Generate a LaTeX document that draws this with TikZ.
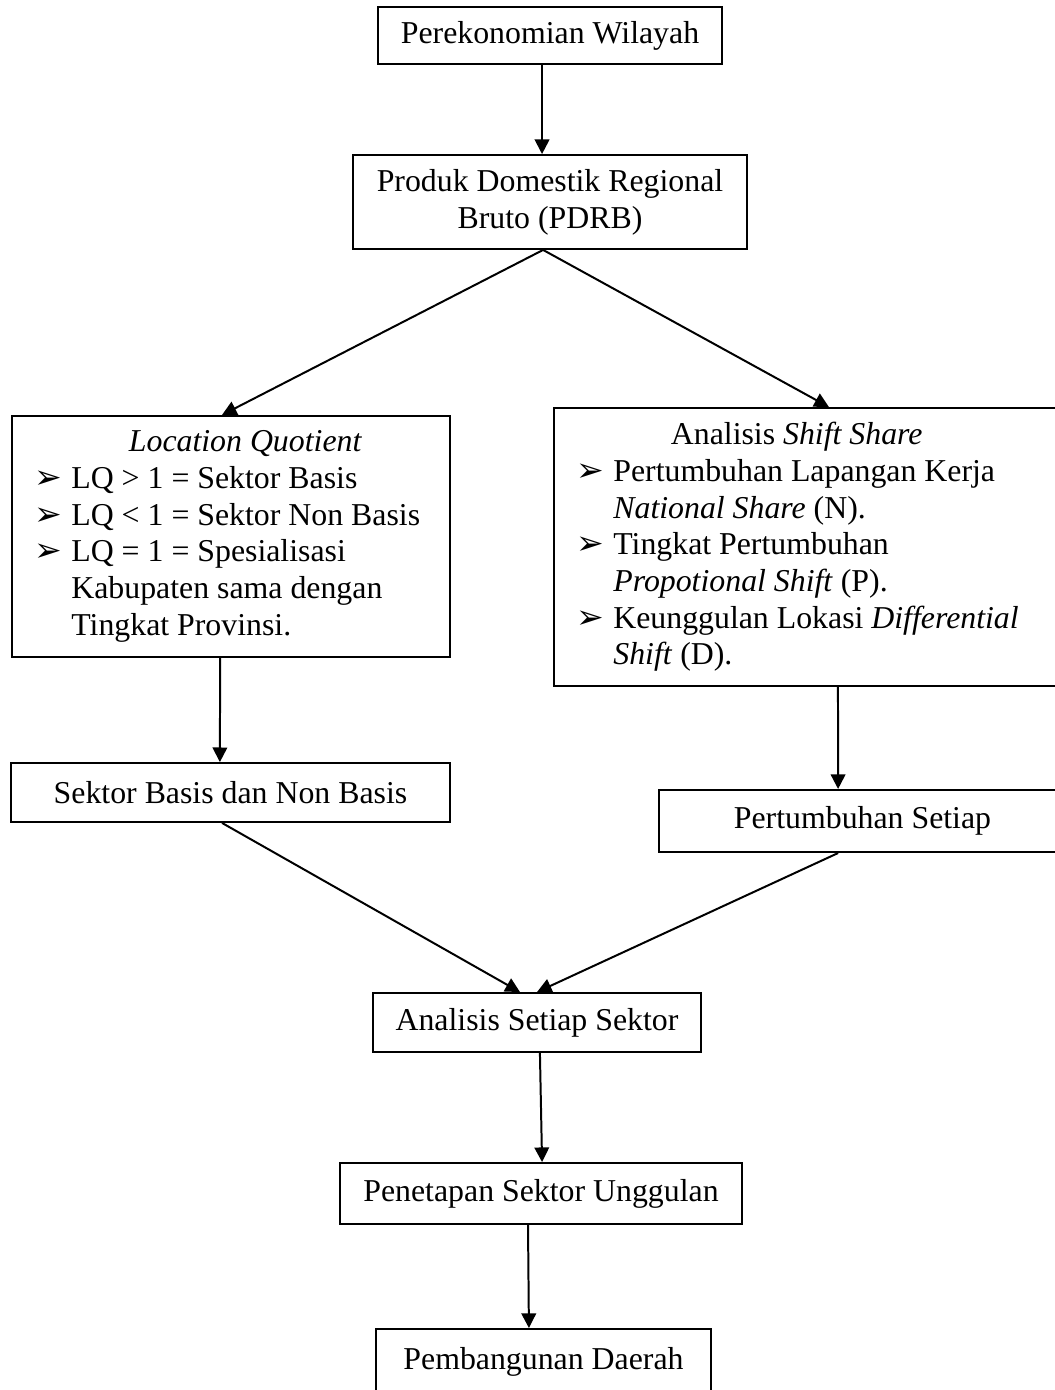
\documentclass[tikz,border=0pt]{standalone}
\usepackage{fontspec}
\setmainfont{Liberation Serif}
\newfontfamily\symfont{DejaVu Sans}
\usetikzlibrary{arrows.meta}

\newcommand{\pointer}{\makebox[13.9pt][l]{\symfont\fontsize{12.5}{12.5}\selectfont ➢}}
\newcommand{\hang}{\hspace*{13.9pt}}
\newcommand{\heading}{\hspace*{35.6pt}}

\begin{document}
\begin{tikzpicture}[x=0.3771pt, y=-0.3771pt,
    box/.style={draw, line width=0.75pt, rectangle, inner sep=0pt, align=center,
        font=\fontsize{12}{13.84}\selectfont},
    listbox/.style={box, align=flush left, inner xsep=8.5pt},
    flow/.style={line width=0.75pt, -{Triangle[length=5.5pt,width=5.5pt]}}]
    \useasboundingbox (0,0) rectangle (1055,1390);
    \clip (0,0) rectangle (1055,1390);

    \node[box, minimum width=129.7pt, minimum height=21.5pt] (wilayah) at (550,35.5) {Perekonomian Wilayah};
    \node[box, minimum width=148.6pt, minimum height=35.4pt] (pdrb) at (550,202) {Produk Domestik Regional\\Bruto (PDRB)};

    \node[listbox, text width=148.2pt, minimum height=90.9pt] (lq) at (231,536.5) {%
        \heading\textit{Location Quotient}\\
        \pointer LQ > 1 = Sektor Basis\\
        \pointer LQ < 1 = Sektor Non Basis\\
        \pointer LQ = 1 = Spesialisasi\\
        \hang Kabupaten sama dengan\\
        \hang Tingkat Provinsi.};
    \node[listbox, text width=174.6pt, minimum height=104.8pt] (ss) at (808,547) {%
        \heading Analisis \textit{Shift Share}\\
        \pointer Pertumbuhan Lapangan Kerja\\
        \hang\textit{National Share} (N).\\
        \pointer Tingkat Pertumbuhan\\
        \hang\textit{Propotional Shift} (P).\\
        \pointer Keunggulan Lokasi \textit{Differential}\\
        \hang\textit{Shift} (D).};

    \node[box, minimum width=165.5pt, minimum height=22.2pt] (basis) at (230.5,792.5) {Sektor Basis dan Non Basis};
    \node[box, minimum width=153.5pt, minimum height=23.4pt] (tumbuh) at (862.5,821) {Pertumbuhan Setiap};
    \node[box, minimum width=123.7pt, minimum height=22.2pt] (sektor) at (537,1022.5) {Analisis Setiap Sektor};
    \node[box, minimum width=151.6pt, minimum height=23pt] (unggulan) at (541,1193.5) {Penetapan Sektor Unggulan};
    \node[box, minimum width=126.3pt, minimum height=24.9pt] (daerah) at (543.5,1362) {Pembangunan Daerah};

    \draw[flow] ([xshift=-3pt]wilayah.south) -- ([xshift=-3pt]pdrb.north);
    \draw[flow] ([xshift=-2.6pt]pdrb.south) -- ([xshift=-3.4pt]lq.north);
    \draw[flow] ([xshift=-2.6pt]pdrb.south) -- ([xshift=7.9pt]ss.north);
    \draw[flow] ([xshift=-4.1pt]lq.south) -- ([xshift=-4pt]basis.north);
    \draw[flow] ([xshift=11.3pt]ss.south) -- ([xshift=-9.2pt]tumbuh.north);
    \draw[flow] ([xshift=-3.2pt]basis.south) -- ([xshift=-6.4pt]sektor.north);
    \draw[flow] ([xshift=-9.2pt]tumbuh.south) -- (sektor.north);
    \draw[flow] ([xshift=1.1pt]sektor.south) -- ([xshift=0.4pt]unggulan.north);
    \draw[flow] ([xshift=-4.9pt]unggulan.south) -- ([xshift=-5.5pt]daerah.north);
\end{tikzpicture}
\end{document}
